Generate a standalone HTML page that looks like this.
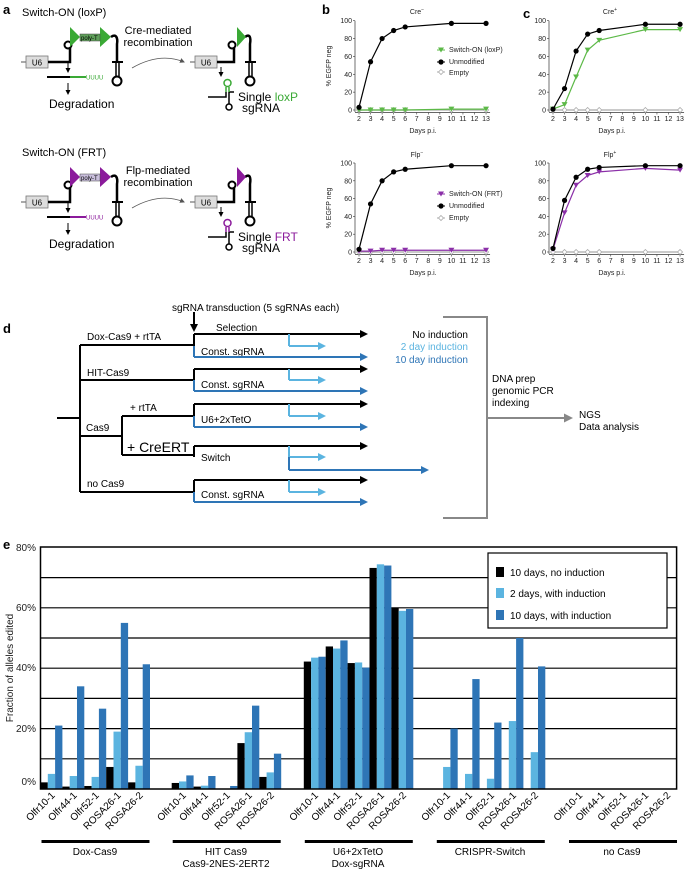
<!DOCTYPE html>
<html><head><meta charset="utf-8"><style>
body{margin:0;background:#fff}
svg{display:block;font-family:"Liberation Sans",sans-serif}
</style></head><body>
<svg id="s" width="685" height="869" viewBox="0 0 685 869" xmlns="http://www.w3.org/2000/svg">
<defs>
<marker id="ak" markerWidth="8" markerHeight="8" refX="6" refY="4" orient="auto" markerUnits="userSpaceOnUse"><path d="M0,0L8,4L0,8z" fill="#000"/></marker>
<marker id="ab" markerWidth="8" markerHeight="8" refX="6" refY="4" orient="auto" markerUnits="userSpaceOnUse"><path d="M0,0L8,4L0,8z" fill="#2e75b6"/></marker>
<marker id="al" markerWidth="8" markerHeight="8" refX="6" refY="4" orient="auto" markerUnits="userSpaceOnUse"><path d="M0,0L8,4L0,8z" fill="#5bb4e0"/></marker>
<marker id="ag" markerWidth="9" markerHeight="9" refX="6" refY="4.5" orient="auto" markerUnits="userSpaceOnUse"><path d="M0,0L9,4.5L0,9z" fill="#888"/></marker>
<marker id="as" markerWidth="5" markerHeight="5" refX="4" refY="2.5" orient="auto" markerUnits="userSpaceOnUse"><path d="M0,0L5,2.5L0,5z" fill="#000"/></marker>
<marker id="at" markerWidth="5" markerHeight="5" refX="4" refY="2.5" orient="auto" markerUnits="userSpaceOnUse"><path d="M0,0L5,2.5L0,5z" fill="#555"/></marker>
<g id="lbl" font-size="10" text-anchor="end">
<text transform="translate(15,796) rotate(-45)">Olfr10-1</text>
<text transform="translate(37,796) rotate(-45)">Olfr44-1</text>
<text transform="translate(59,796) rotate(-45)">Olfr52-1</text>
<text transform="translate(81,796) rotate(-45)">ROSA26-1</text>
<text transform="translate(103,796) rotate(-45)">ROSA26-2</text>
</g>
<g id="cons">
<line x1="21" y1="62" x2="26" y2="62" stroke="#555" stroke-width="1"/>
<rect x="26" y="56" width="22" height="12" fill="#ddd" stroke="#777" stroke-width="0.8"/>
<text x="37" y="65.5" font-size="8" text-anchor="middle">U6</text>
<path d="M48,62H70V48" fill="none" stroke="#000" stroke-width="2.5"/>
<circle cx="68" cy="45" r="3.5" fill="none" stroke="#000" stroke-width="2"/>
<path d="M111,37 C116,33 118,38 117,44 V62" fill="none" stroke="#000" stroke-width="2.5"/>
<path d="M112,62H123" stroke="#000" stroke-width="2"/>
<path d="M116,62V76M119,62V76" stroke="#000" stroke-width="1.5"/>
<circle cx="117" cy="81" r="4.5" fill="none" stroke="#000" stroke-width="2"/>
<line x1="47" y1="77" x2="70" y2="77" stroke="#000" stroke-width="2"/>
<line x1="68" y1="63" x2="68" y2="72" stroke="#000" stroke-width="1" marker-end="url(#as)"/>
<line x1="68" y1="83" x2="68" y2="94" stroke="#000" stroke-width="1" marker-end="url(#as)"/>
<text x="49" y="108" font-size="12">Degradation</text>
<line x1="195" y1="62" x2="190" y2="62" stroke="#555"/>
<rect x="195" y="56" width="22" height="12" fill="#ddd" stroke="#777" stroke-width="0.8"/>
<text x="206" y="65.5" font-size="8" text-anchor="middle">U6</text>
<path d="M217,62H234V48" fill="none" stroke="#000" stroke-width="2.5"/>
<circle cx="232" cy="45" r="3.5" fill="none" stroke="#000" stroke-width="2"/>
<path d="M245,37 C250,33 251,38 250,44 V62" fill="none" stroke="#000" stroke-width="2.5"/>
<path d="M245,62H256" stroke="#000" stroke-width="2"/>
<path d="M249,62V76M252,62V76" stroke="#000" stroke-width="1.5"/>
<circle cx="250" cy="81" r="4.5" fill="none" stroke="#000" stroke-width="2"/>
<line x1="221" y1="67" x2="221" y2="76" stroke="#000" stroke-width="1" marker-end="url(#as)"/>
<path d="M208,97H226V92M229,92V104" fill="none" stroke="#000" stroke-width="1.5"/>
<circle cx="229" cy="107" r="3" fill="none" stroke="#000" stroke-width="1.5"/>
<path d="M229,92H234" stroke="#000" stroke-width="1.5"/>
<path d="M132,68 Q160,52 184,62" fill="none" stroke="#555" stroke-width="0.8" marker-end="url(#at)"/>
<text x="242" y="112" font-size="12">sgRNA</text>
</g>
</defs>

<!-- panel a -->
<text x="3" y="14" font-size="13" font-weight="bold">a</text>
<text x="22" y="16" font-size="11">Switch-ON (loxP)</text>
<use href="#cons"/>
<path d="M70,27L80,37L70,47z M100,27L111,37L100,47z M237,27L246,37L237,47z" fill="#3aa935"/>
<rect x="80" y="34" width="20" height="7" fill="#5f9f5a" stroke="#444" stroke-width="0.5"/>
<text x="81" y="40" font-size="6">poly-T</text>
<line x1="70" y1="77" x2="86" y2="77" stroke="#3aa935" stroke-width="2"/>
<text x="86" y="79.5" font-size="6" fill="#3aa935">UUUU</text>
<path d="M226,92V87M229,87V92" stroke="#3aa935" stroke-width="1.5"/>
<circle cx="227.5" cy="83" r="3.5" fill="none" stroke="#3aa935" stroke-width="1.5"/>
<text x="158" y="34" font-size="11" text-anchor="middle">Cre-mediated</text>
<text x="158" y="46" font-size="11" text-anchor="middle">recombination</text>
<text x="238" y="101" font-size="12">Single <tspan fill="#3aa935">loxP</tspan></text>

<text x="22" y="156" font-size="11">Switch-ON (FRT)</text>
<g transform="translate(0,140)"><use href="#cons"/>
<path d="M70,27L80,37L70,47z M100,27L111,37L100,47z M237,27L246,37L237,47z" fill="#8b1a9b"/>
<rect x="80" y="34" width="20" height="7" fill="#c9bfdc" stroke="#444" stroke-width="0.5"/>
<text x="81" y="40" font-size="6">poly-T</text>
<line x1="70" y1="77" x2="86" y2="77" stroke="#8b1a9b" stroke-width="2"/>
<text x="86" y="79.5" font-size="6" fill="#8b1a9b">UUUU</text>
<path d="M226,92V87M229,87V92" stroke="#8b1a9b" stroke-width="1.5"/>
<circle cx="227.5" cy="83" r="3.5" fill="none" stroke="#8b1a9b" stroke-width="1.5"/>
<text x="158" y="34" font-size="11" text-anchor="middle">Flp-mediated</text>
<text x="158" y="46" font-size="11" text-anchor="middle">recombination</text>
<text x="238" y="101" font-size="12">Single <tspan fill="#8b1a9b">FRT</tspan></text>
</g>

<!-- panels b c text -->
<text x="322" y="14" font-size="13" font-weight="bold">b</text>
<text x="523" y="18" font-size="13" font-weight="bold">c</text>
<g font-size="7" fill="#222">
<text x="417" y="14" text-anchor="middle">Cre<tspan font-size="5" dy="-3">−</tspan></text>
<text x="417" y="157" text-anchor="middle">Flp<tspan font-size="5" dy="-3">−</tspan></text>
<text x="610" y="14" text-anchor="middle">Cre<tspan font-size="5" dy="-3">+</tspan></text>
<text x="610" y="157" text-anchor="middle">Flp<tspan font-size="5" dy="-3">+</tspan></text>
<text transform="translate(331,66) rotate(-90)" text-anchor="middle">% EGFP neg</text>
<text transform="translate(331,208) rotate(-90)" text-anchor="middle">% EGFP neg</text>
<text x="423" y="133" text-anchor="middle">Days p.i.</text>
<text x="423" y="275" text-anchor="middle">Days p.i.</text>
<text x="612" y="133" text-anchor="middle">Days p.i.</text>
<text x="612" y="275" text-anchor="middle">Days p.i.</text>
<text x="449" y="52">Switch-ON (loxP)</text>
<text x="449" y="64">Unmodified</text>
<text x="449" y="75">Empty</text>
<text x="449" y="196">Switch-ON (FRT)</text>
<text x="449" y="208">Unmodified</text>
<text x="449" y="220">Empty</text>
</g>
<g id="lc"></g>

<!-- panel d -->
<text x="3" y="333" font-size="13" font-weight="bold">d</text>
<g font-size="10">
<text x="172" y="311">sgRNA transduction (5 sgRNAs each)</text>
<text x="216" y="331">Selection</text>
<text x="87" y="340">Dox-Cas9 + rtTA</text>
<text x="201" y="355">Const. sgRNA</text>
<text x="87" y="376">HIT-Cas9</text>
<text x="201" y="388">Const. sgRNA</text>
<text x="130" y="411">+ rtTA</text>
<text x="201" y="423">U6+2xTetO</text>
<text x="86" y="431">Cas9</text>
<text x="127" y="452" font-size="14">+ CreERT</text>
<text x="201" y="461">Switch</text>
<text x="87" y="487">no Cas9</text>
<text x="201" y="498">Const. sgRNA</text>
<text x="468" y="338" text-anchor="end">No induction</text>
<text x="468" y="350" text-anchor="end" fill="#5bb4e0">2 day induction</text>
<text x="468" y="363" text-anchor="end" fill="#2e75b6">10 day induction</text>
<text x="492" y="382">DNA prep</text>
<text x="492" y="394">genomic PCR</text>
<text x="492" y="406">indexing</text>
<text x="579" y="418">NGS</text>
<text x="579" y="430">Data analysis</text>
</g>
<g fill="none" stroke-width="2">
<line x1="194" y1="312" x2="194" y2="330" stroke="#000" marker-end="url(#ak)"/>
<path d="M57,418H80M80,345V492M80,345H194M80,380H194M80,436H122M122,416V455M122,416H194M122,455H194M80,492H194" stroke="#000"/>
<g id="rows"></g>
<path d="M443,317H487V518H443" stroke="#888"/>
<line x1="487" y1="418" x2="570" y2="418" stroke="#888" marker-end="url(#ag)"/>
</g>

<!-- panel e -->
<text x="3" y="549" font-size="13" font-weight="bold">e</text>
<g id="bars"></g>
<g font-size="10" text-anchor="end" fill="#222">
<text x="36" y="551">80%</text>
<text x="36" y="611">60%</text>
<text x="36" y="671">40%</text>
<text x="36" y="732">20%</text>
<text x="36" y="785">0%</text>
<text transform="translate(13,668) rotate(-90)" text-anchor="middle">Fraction of alleles edited</text>
</g>
<rect x="488" y="553" width="179" height="75" fill="#fff" stroke="#000" stroke-width="1.2"/>
<rect x="496" y="567" width="8" height="10" fill="#000"/>
<rect x="496" y="588" width="8" height="10" fill="#5bb4e0"/>
<rect x="496" y="610" width="8" height="10" fill="#2e75b6"/>
<g font-size="10"><text x="510" y="576">10 days, no induction</text><text x="510" y="597">2 days, with induction</text><text x="510" y="619">10 days, with induction</text></g>
<use href="#lbl" x="40.5"/><use href="#lbl" x="171.7"/><use href="#lbl" x="303.8"/><use href="#lbl" x="435.8"/><use href="#lbl" x="568"/>
<g font-size="10" text-anchor="middle">
<text x="95" y="855">Dox-Cas9</text>
<text x="226" y="855">HIT Cas9</text><text x="226" y="867">Cas9-2NES-2ERT2</text>
<text x="358" y="855">U6+2xTetO</text><text x="358" y="867">Dox-sgRNA</text>
<text x="490" y="855">CRISPR-Switch</text>
<text x="622" y="855">no Cas9</text>
</g>
</svg>
<script>
var NS="http://www.w3.org/2000/svg";
function el(p,t,a){var e=document.createElementNS(NS,t);for(var k in a)e.setAttribute(k,a[k]);p.appendChild(e);return e;}
var lc=document.getElementById('lc');
var days=[2,3,4,5,6,10,13];
function chart(x0,y100,y0,series){
 var sx=11.55,xA=x0-4;
 var Y=function(v){return y0-(y0-y100)*v/100;};
 el(lc,'line',{x1:xA,y1:y100,x2:xA,y2:y0+2,stroke:'#333','stroke-width':0.7});
 el(lc,'line',{x1:xA,y1:y0+2.5,x2:x0+11*sx+4,y2:y0+2.5,stroke:'#333','stroke-width':0.7});
 for(var v=0;v<=100;v+=20){el(lc,'line',{x1:xA-2,y1:Y(v),x2:xA,y2:Y(v),stroke:'#333','stroke-width':0.6});
  var t=el(lc,'text',{x:xA-3,y:Y(v)+2.5,'font-size':7,'text-anchor':'end',fill:'#222'});t.textContent=v;}
 for(var d=2;d<=13;d++){var x=x0+(d-2)*sx;el(lc,'line',{x1:x,y1:y0+2.5,x2:x,y2:y0+4.5,stroke:'#333','stroke-width':0.6});
  var t=el(lc,'text',{x:x,y:y0+11,'font-size':7,'text-anchor':'middle',fill:'#222'});t.textContent=d;}
 series.forEach(function(s){
  var pts=s.v.map(function(v,i){return [x0+(days[i]-2)*sx,Y(v)];});
  el(lc,'polyline',{points:pts.map(function(p){return p.join(',')}).join(' '),fill:'none',stroke:s.c,'stroke-width':1.2});
  pts.forEach(function(p){mk(p[0],p[1],s.m,s.c);});
 });
}
function mk(x,y,m,c){
 if(m=='o')el(lc,'circle',{cx:x,cy:y,r:2.6,fill:c});
 else if(m=='v')el(lc,'path',{d:'M'+(x-3)+','+(y-2.5)+'h6l-3,5z',fill:c});
 else el(lc,'path',{d:'M'+x+','+(y-2.5)+'l2.5,2.5l-2.5,2.5l-2.5,-2.5z',fill:'#fff',stroke:c,'stroke-width':0.8});
}
var G='#5cb947',P='#8b2fa8',K='#000',E='#aaa';
chart(359,20.7,110,[{v:[0,0,0,0,0,0,0],c:E,m:'d'},{v:[0,0,0,0,0,1,1],c:G,m:'v'},{v:[3,54,80,89,93,97,97],c:K,m:'o'}]);
chart(359,163,252,[{v:[0,0,0,0,0,0,0],c:E,m:'d'},{v:[1,1,2,2,2,2,2],c:P,m:'v'},{v:[3,54,80,90,93,97,97],c:K,m:'o'}]);
chart(553,20.7,110,[{v:[0,0,0,0,0,0,0],c:E,m:'d'},{v:[1,6,37,67,78,90,90],c:G,m:'v'},{v:[1,24,66,85,89,96,96],c:K,m:'o'}]);
chart(553,163,252,[{v:[0,0,0,0,0,0,0],c:E,m:'d'},{v:[3,44,75,86,90,94,92],c:P,m:'v'},{v:[4,58,84,93,95,97,97],c:K,m:'o'}]);
el(lc,'line',{x1:437,y1:50,x2:445,y2:50,stroke:G});mk(441,50,'v',G);
el(lc,'line',{x1:437,y1:62,x2:445,y2:62,stroke:K});mk(441,62,'o',K);
el(lc,'line',{x1:437,y1:72,x2:445,y2:72,stroke:E});mk(441,72,'d',E);
el(lc,'line',{x1:437,y1:194,x2:445,y2:194,stroke:P});mk(441,194,'v',P);
el(lc,'line',{x1:437,y1:206,x2:445,y2:206,stroke:K});mk(441,206,'o',K);
el(lc,'line',{x1:437,y1:218,x2:445,y2:218,stroke:E});mk(441,218,'d',E);
var rows=document.getElementById('rows');
[[334,346,357],[369,380,391],[404,416,427],[446,457,470],[480,492,502]].forEach(function(r,i){
 el(rows,'line',{x1:194,y1:r[0],x2:194,y2:r[1],stroke:'#000'});
 el(rows,'line',{x1:194,y1:r[0],x2:366,y2:r[0],stroke:'#000','marker-end':'url(#ak)'});
 el(rows,'line',{x1:289,y1:r[0],x2:289,y2:r[1],stroke:'#5bb4e0'});
 el(rows,'line',{x1:289,y1:r[1],x2:324,y2:r[1],stroke:'#5bb4e0','marker-end':'url(#al)'});
 if(i==3){el(rows,'line',{x1:289,y1:r[1],x2:289,y2:r[2],stroke:'#2e75b6'});
  el(rows,'line',{x1:289,y1:r[2],x2:427,y2:r[2],stroke:'#2e75b6','marker-end':'url(#ab)'});}
 else{el(rows,'line',{x1:194,y1:r[1],x2:194,y2:r[2],stroke:'#2e75b6'});
  el(rows,'line',{x1:194,y1:r[2],x2:366,y2:r[2],stroke:'#2e75b6','marker-end':'url(#ab)'});}
});
var bg=document.getElementById('bars');
var Yb=function(v){return 789-v*3.02;};
for(var v=10;v<=70;v+=10)el(bg,'line',{x1:40.5,y1:Yb(v),x2:676.6,y2:Yb(v),stroke:'#000','stroke-width':1.2});
var data=[
[[2.2,5,21],[0.8,4.3,34],[1,4,26.6],[7.3,19,55],[2.2,7.7,41.3]],
[[2,2.5,4.5],[0.8,1.1,4.3],[0,0,1],[15.2,18.8,27.6],[4,5.5,11.7]],
[[42.2,43.5,43.8],[47.2,46.5,49.2],[41.7,41.9,40.2],[73.2,74.4,74],[60,59,59.6]],
[[0,7.3,20],[0,5,36.4],[0,3.4,22],[0,22.5,50],[0,12.2,40.6]],
[[0,0,0],[0,0,0],[0,0,0],[0,0,0],[0,0,0]]];
var gs=[40.5,171.7,303.8,435.8,568],cols=['#000','#5bb4e0','#2e75b6'];
data.forEach(function(g,gi){g.forEach(function(b,bi){b.forEach(function(v,k){
 if(v>0)el(bg,'rect',{x:gs[gi]+(bi*3+k)*7.3,y:Yb(v),width:7.3,height:789-Yb(v),fill:cols[k]});});});
 el(bg,'rect',{x:gs[gi]+1,y:840,width:108,height:3,fill:'#000'});});
el(bg,'rect',{x:40.5,y:547,width:636.1,height:242,fill:'none',stroke:'#000','stroke-width':1.5});
</script>
</body></html>
